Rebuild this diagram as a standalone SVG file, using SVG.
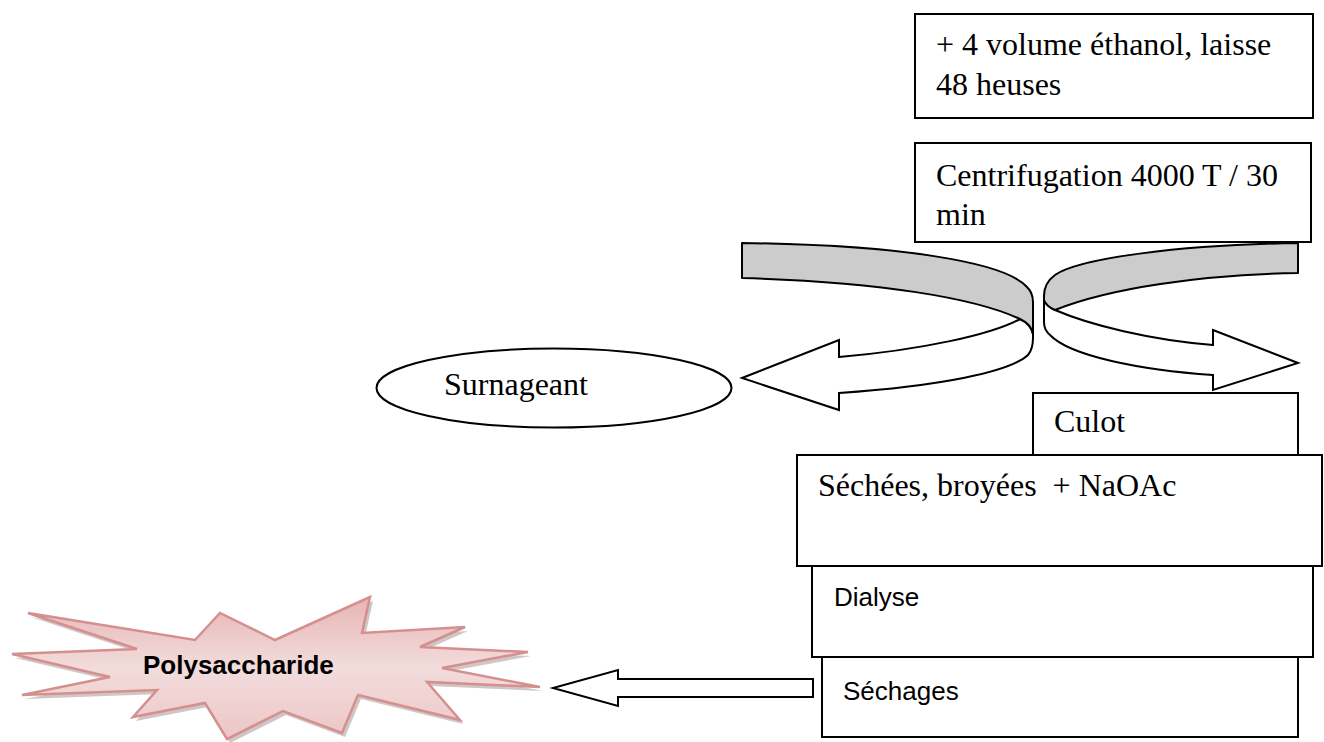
<svg xmlns="http://www.w3.org/2000/svg" width="1324" height="742" viewBox="0 0 1324 742">
<defs>
<linearGradient id="pink" x1="0" y1="0" x2="0" y2="1">
<stop offset="0" stop-color="#e6b4b4"/>
<stop offset="0.5" stop-color="#f3dcdc"/>
<stop offset="1" stop-color="#ecc6c6"/>
</linearGradient>
<style>
.box{fill:#fff;stroke:#000;stroke-width:2}
.ser{font-family:"Liberation Serif","Times New Roman",serif;font-size:32px;fill:#000;white-space:pre}
.sans{font-family:"Liberation Sans",Arial,sans-serif;font-size:26px;fill:#000}
.grey{fill:#cccccc;stroke:#000;stroke-width:2;stroke-linejoin:round}
.white{fill:#fff;stroke:#000;stroke-width:2;stroke-linejoin:miter}
</style>
</defs>
<rect width="1324" height="742" fill="#fff"/>

<g id="connectors">
<g id="ribbon-left">
<path class="white" d="M1020,319 C990,335 920,350 839,357 L839,340 L742,378 L839,410 L839,393 C940,386 1010,372 1028,355 Q1033,349 1033,338 L1033,334 Q1031,324 1020,319 Z"/>
<path class="grey" d="M742,243 C900,245 1005,262 1027,287 Q1033,293 1033,302 L1033,334 Q1031,324 1020,319 C975,298 880,282 742,278 Z"/>
</g>
<g id="ribbon-right">
<path class="white" d="M1055,310 C1090,325 1150,340 1213,345 L1213,330 L1298,363 L1213,390 L1213,375 C1140,370 1070,356 1050,335 Q1044,330 1044,322 L1044,300 Q1046,306 1055,310 Z"/>
<path class="grey" d="M1298,243 L1298,273 C1200,275 1110,288 1055,310 Q1046,306 1044,300 L1044,296 Q1044,283 1055,275 C1080,258 1180,245 1298,243 Z"/>
</g>
<path id="arrow-bottom" class="white" d="M813,679 L618,679 L618,670 L553,688 L618,706 L618,697 L813,697 Z"/>
</g>

<g id="node-ethanol">
<rect class="box" x="915" y="14" width="398" height="104"/>
<text class="ser" x="936" y="55">+ 4 volume éthanol, laisse</text>
<text class="ser" x="936" y="95">48 heuses</text>
</g>

<g id="node-centrifugation">
<rect class="box" x="915" y="143" width="396" height="99"/>
<text class="ser" x="936" y="186">Centrifugation 4000 T / 30</text>
<text class="ser" x="936" y="225">min</text>
</g>

<g id="node-surnageant">
<ellipse cx="554" cy="388" rx="177.5" ry="39.5" fill="#fff" stroke="#000" stroke-width="2"/>
<text class="ser" x="444" y="395">Surnageant</text>
</g>

<g id="node-culot">
<rect class="box" x="1033" y="393" width="265" height="62"/>
<text class="ser" x="1054" y="432">Culot</text>
</g>

<g id="node-sechees">
<rect class="box" x="797" y="455" width="525" height="111"/>
<text class="ser" x="818" y="496" xml:space="preserve">Séchées, broyées  + NaOAc</text>
</g>

<g id="node-dialyse">
<rect class="box" x="812" y="566" width="501" height="91"/>
<text class="sans" x="834" y="606">Dialyse</text>
</g>

<g id="node-sechages">
<rect class="box" x="822" y="657" width="476" height="80"/>
<text class="sans" x="843" y="700">Séchages</text>
</g>

<g id="node-polysaccharide">
<polygon transform="translate(3,4)" fill="#9a8080" opacity="0.45" points="28,613 195,640 220,613 275,640 370,597 362,633 465,627 420,647 528,652 442,668 540,687 427,682 460,720 358,695 342,733 283,711 227,739 205,703 133,717 157,690 22,695 110,677 12,654 137,649"/>
<polygon fill="url(#pink)" stroke="#d58f8f" stroke-width="2.5" stroke-linejoin="miter" points="28,613 195,640 220,613 275,640 370,597 362,633 465,627 420,647 528,652 442,668 540,687 427,682 460,720 358,695 342,733 283,711 227,739 205,703 133,717 157,690 22,695 110,677 12,654 137,649"/>
<text x="143" y="674" font-family="Liberation Sans, Arial, sans-serif" font-size="26" font-weight="bold" fill="#000">Polysaccharide</text>
</g>
</svg>
